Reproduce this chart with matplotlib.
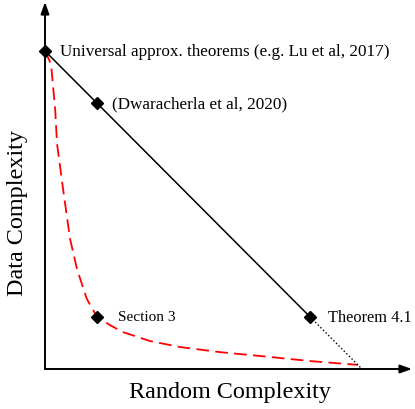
import matplotlib.pyplot as plt

plt.rcParams['font.family'] = ['Liberation Serif', 'DejaVu Serif']

# trade-off line (data complexity vs random complexity)
line_x = [0.0, 0.836]
line_y = [1.0, 0.164]
dotted_x = [0.836, 1.0]
dotted_y = [0.164, 0.0]

# red dashed curve
curve_x = [0.0, 0.019, 0.032, 0.038, 0.057, 0.079, 0.101, 0.132, 0.164,
           0.205, 0.246, 0.331, 0.426, 0.552, 0.678, 0.836, 0.987]
curve_y = [1.0, 0.959, 0.818, 0.708, 0.566, 0.409, 0.314, 0.220, 0.164,
           0.138, 0.116, 0.088, 0.069, 0.053, 0.041, 0.025, 0.013]

# labelled points
pt_x = [0.0, 0.164, 0.164, 0.836]
pt_y = [1.0, 0.836, 0.164, 0.164]
pt_labels = ["Universal approx. theorems (e.g. Lu et al, 2017)",
             "(Dwaracherla et al, 2020)",
             "Section 3",
             "Theorem 4.1"]
label_offsets = [(11, 0), (11, 0), (15, 0), (13, 0)]
label_sizes = [12.3, 12.3, 11, 11.8]

fig = plt.figure(figsize=(4.15, 4.10), dpi=100)
ax = fig.add_axes([45 / 415, 40 / 410, 367 / 415, 367 / 410])
xmax = 367 / 317
ymax = 367 / 318
ax.set_xlim(0, xmax)
ax.set_ylim(0, ymax)
for s in ax.spines.values():
    s.set_visible(False)
ax.set_xticks([])
ax.set_yticks([])

# axis arrows
arrow = dict(arrowstyle='-|>,head_length=0.7,head_width=0.25', color='black',
             lw=1.4, shrinkA=0, shrinkB=0)
ax.annotate('', xy=(xmax, 0), xytext=(0, 0), arrowprops=arrow, annotation_clip=False)
ax.annotate('', xy=(0, ymax), xytext=(0, 0), arrowprops=arrow, annotation_clip=False)

ax.plot(curve_x, curve_y, color='red', lw=1.3, dashes=(7, 3.5), clip_on=False)
ax.plot(line_x, line_y, color='black', lw=1.1)
ax.plot(dotted_x, dotted_y, color='black', lw=1.0, ls=':')
ax.plot(pt_x, pt_y, 'D', color='black', ms=6.5, clip_on=False, zorder=5)

for x, y, lab, off, fs in zip(pt_x, pt_y, pt_labels, label_offsets, label_sizes):
    ax.annotate(lab, xy=(x, y), xytext=off, textcoords='offset points',
                ha='left', va='center', fontsize=fs)

fig.text(230 / 415, 1 - 393 / 410, "Random Complexity", ha='center', va='center', fontsize=17.4)
fig.text(17 / 415, 1 - 213 / 410, "Data Complexity", ha='center', va='center',
         rotation=90, fontsize=17.4)

fig.savefig('out.png', dpi=100)
